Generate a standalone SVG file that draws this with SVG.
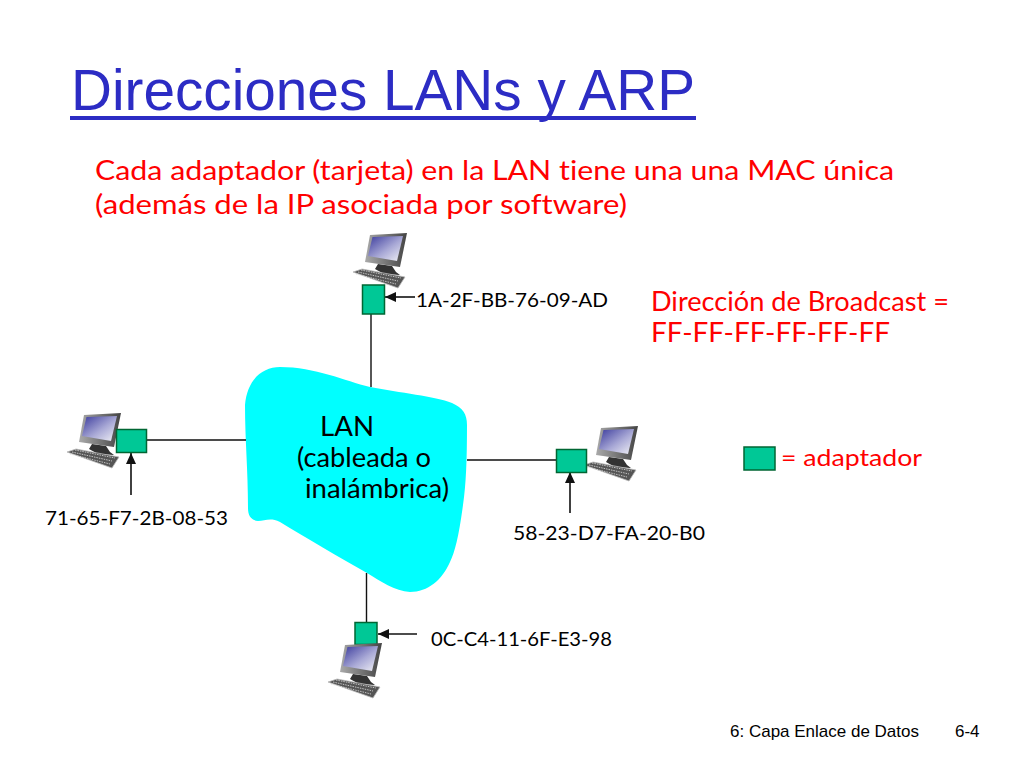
<svg xmlns="http://www.w3.org/2000/svg" width="1024" height="768" viewBox="0 0 1024 768">
<style>
.c{font-family:"Lato","Noto Sans",sans-serif;font-variant-ligatures:none}
.r{fill:#f00;font-size:26px}
.k{fill:#000;font-size:19.5px}
.l{fill:#000;font-size:26px}
.f{font-family:"Liberation Sans",Arial,sans-serif;font-size:17px;fill:#000}
.a{fill:#00c896;stroke:#063;stroke-width:1.5}
.w{stroke:#111;stroke-width:1.4;fill:none}
.p{stroke:#111;stroke-width:1.6;fill:none;marker-end:url(#h)}
</style>
<defs>
<marker id="h" markerUnits="userSpaceOnUse" markerWidth="12" markerHeight="10" refX="11" refY="5" orient="auto"><path d="M0,0L11,5L0,10z" fill="#111"/></marker>
<linearGradient id="s" x1="0" y1="0" x2="1" y2="1"><stop offset="0" stop-color="#3a3a9c"/><stop offset=".55" stop-color="#a9a9d6"/><stop offset="1" stop-color="#f2f2f6"/></linearGradient>
<linearGradient id="b" x1="0" y1="0" x2="1" y2="0"><stop offset="0" stop-color="#aaa"/><stop offset="1" stop-color="#444"/></linearGradient>
<g id="pc">
<path d="M375,269L378,264L392,266L396,272L400,275L384,274z" fill="#333"/>
<path d="M370,235L407,233L400,267L365,262z" fill="url(#b)"/>
<path d="M372.500,237L403,236L397,261L368,256z" fill="url(#s)"/>
<path d="M353,272L362,269L405,277L398,288z" fill="#555" stroke="#bbb" stroke-width=".8"/>
<path d="M358,272L398,281M361,270L401,278M356,274L396,284" stroke="#ddd" stroke-width=".8" stroke-dasharray="1.500 1"/>
</g>
</defs>
<rect width="1024" height="768" fill="#fff"/>
<text x="71" y="110" font-family="Liberation Sans,Arial,sans-serif" font-size="58" fill="#2c2cc4" textLength="624" lengthAdjust="spacingAndGlyphs">Direcciones LANs y ARP</text>
<rect x="70" y="116" width="626" height="4" fill="#2c2cc4"/>
<text class="c r" x="95" y="180" textLength="799" lengthAdjust="spacingAndGlyphs">Cada adaptador (tarjeta) en la LAN tiene una una MAC única</text>
<text class="c r" x="95" y="214" textLength="532" lengthAdjust="spacingAndGlyphs">(además de la IP asociada por software)</text>
<text class="c r" x="651" y="311" textLength="298" lengthAdjust="spacingAndGlyphs">Dirección de Broadcast =</text>
<text class="c r" x="651" y="342" textLength="239" lengthAdjust="spacingAndGlyphs">FF-FF-FF-FF-FF-FF</text>
<g id="lan">
<path d="M245,405C247,380 262,367 280,367C315,367 345,381 370,387C400,393 435,396 452,403C463,408 467,414 467,425C467,460 466,485 463,505C459,535 455,552 450,562C442,580 428,592 410,592C395,591 380,581 367,573C340,558 305,537 280,522C270,517 265,521 258,521C251,520 248,516 248,508C248,470 245,440 245,405z" fill="#0ff"/>
<text class="c l" x="320" y="436" textLength="54" lengthAdjust="spacingAndGlyphs">LAN</text>
<text class="c l" x="297" y="467" textLength="134" lengthAdjust="spacingAndGlyphs">(cableada o</text>
<text class="c l" x="305" y="498" textLength="144" lengthAdjust="spacingAndGlyphs">inalámbrica)</text>
</g>
<g id="connectors">
<path class="w" d="M371,314V387M147,440H246M467,460H556M366.500,573V622"/>
<path class="p" d="M415,297H385"/>
<path class="p" d="M131,495V453"/>
<path class="p" d="M570,513V472"/>
<path class="p" d="M417,634H378"/>
</g>
<g id="host-top">
<use href="#pc"/>
<rect class="a" x="362.500" y="285" width="22" height="29"/>
<text class="c k" x="416" y="307" textLength="192" lengthAdjust="spacingAndGlyphs">1A-2F-BB-76-09-AD</text>
</g>
<g id="host-left">
<use href="#pc" x="-286" y="180"/>
<rect class="a" x="116.500" y="429.500" width="30" height="23"/>
<text class="c k" x="45" y="525" textLength="183" lengthAdjust="spacingAndGlyphs">71-65-F7-2B-08-53</text>
</g>
<g id="host-right">
<use href="#pc" x="231" y="193"/>
<rect class="a" x="556.500" y="449.500" width="30" height="23"/>
<text class="c k" x="513" y="540" textLength="192" lengthAdjust="spacingAndGlyphs">58-23-D7-FA-20-B0</text>
</g>
<g id="host-bottom">
<rect class="a" x="355" y="622.500" width="22" height="22"/>
<use href="#pc" x="-25" y="410"/>
<text class="c k" x="431" y="646" textLength="181" lengthAdjust="spacingAndGlyphs">0C-C4-11-6F-E3-98</text>
</g>
<g id="legend">
<rect class="a" x="744" y="447" width="31" height="23"/>
<text class="c" x="781" y="466" font-size="24" fill="#f00" textLength="141" lengthAdjust="spacingAndGlyphs">= adaptador</text>
</g>
<text class="f" x="730" y="737" textLength="189" lengthAdjust="spacingAndGlyphs">6: Capa Enlace de Datos</text>
<text class="f" x="955" y="737">6-4</text>
</svg>
